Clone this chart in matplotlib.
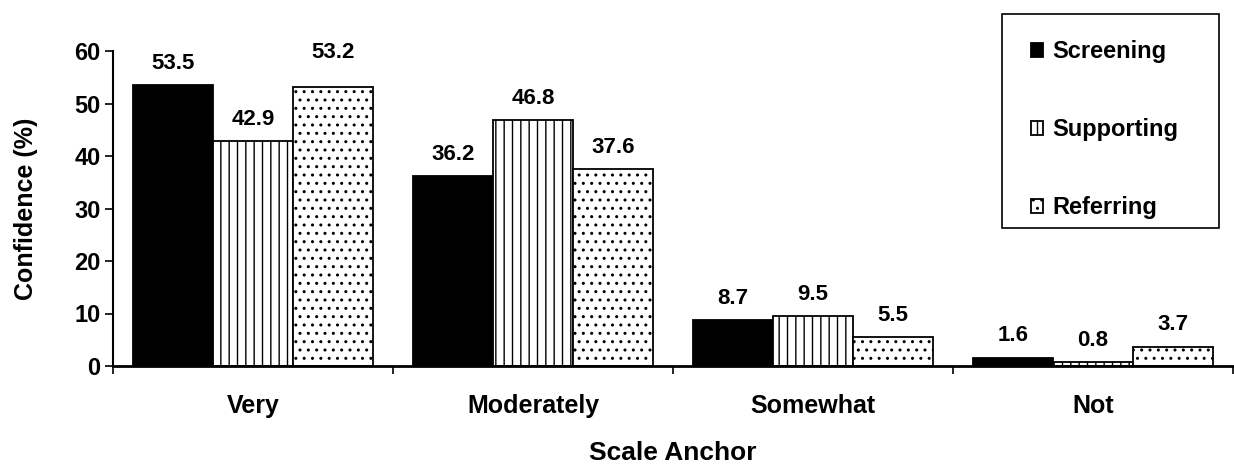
import matplotlib
matplotlib.use('Agg')
import matplotlib.pyplot as plt
from matplotlib.patches import Rectangle
import numpy as np

categories = ['Very', 'Moderately', 'Somewhat', 'Not']
screening = [53.5, 36.2, 8.7, 1.6]
supporting = [42.9, 46.8, 9.5, 0.8]
referring = [53.2, 37.6, 5.5, 3.7]
series_names = ['Screening', 'Supporting', 'Referring']

plt.rcParams['font.family'] = ['Liberation Sans', 'DejaVu Sans']
plt.rcParams['font.weight'] = 'bold'
plt.rcParams['hatch.linewidth'] = 1.0

fig = plt.figure(figsize=(12.34, 4.75), dpi=100)
ax = fig.add_axes([0.0916, 0.2295, 0.9076, 0.663])

x = np.arange(len(categories))
w = 0.2866
styles = [dict(color='black', hatch=None),
          dict(facecolor='white', hatch='||'),
          dict(facecolor='white', hatch='..')]
data = [screening, supporting, referring]
for i, (vals, name, st) in enumerate(zip(data, series_names, styles)):
    bars = ax.bar(x + (i - 1) * w, vals, w, edgecolor='black', linewidth=1.3,
                  label=name, **st)
    for j, (b, v) in enumerate(zip(bars, vals)):
        # the 53.2 label sits higher in the original
        dy = 17 if (i == 2 and j == 0) else 8
        ax.annotate(f'{v:.1f}', (b.get_x() + b.get_width() / 2, v),
                    xytext=(0, dy), textcoords='offset points',
                    ha='center', va='bottom', fontsize=16, fontweight='bold')

ax.set_xlim(-0.5, 3.5)
ax.set_ylim(0, 60)
ax.set_yticks(range(0, 61, 10))
ax.set_xticks(x)
ax.set_xticklabels(categories, fontsize=18, fontweight='bold')
ax.set_xticks(np.arange(-0.5, 4, 1), minor=True)
ax.tick_params(axis='x', which='major', length=0, pad=20)
ax.tick_params(axis='x', which='minor', length=6, width=1.2, direction='out')
ax.tick_params(axis='y', labelsize=17, length=6, width=1.2, direction='out', pad=3)
for lab in ax.get_yticklabels():
    lab.set_fontweight('bold')
ax.spines['top'].set_visible(False)
ax.spines['right'].set_visible(False)
ax.spines['left'].set_linewidth(1.5)
ax.spines['bottom'].set_linewidth(2)
ax.set_ylabel('Confidence (%)', fontsize=18, fontweight='bold', labelpad=26)
ax.set_xlabel('Scale Anchor', fontsize=19, fontweight='bold', labelpad=17)

leg = fig.legend(loc='upper left', bbox_to_anchor=(0.8355, 0.915),
                 frameon=False, prop={'size': 17, 'weight': 'bold'},
                 handlelength=0.5, handleheight=0.5, handletextpad=0.4,
                 labelspacing=2.33, borderpad=0, borderaxespad=0)
# legend frame
fig.patches.append(Rectangle((1002 / 1234, 1 - 228 / 475), 217 / 1234, 214 / 475,
                             transform=fig.transFigure, fill=False,
                             edgecolor='black', linewidth=1.2))

fig.savefig('out.png', dpi=100)
